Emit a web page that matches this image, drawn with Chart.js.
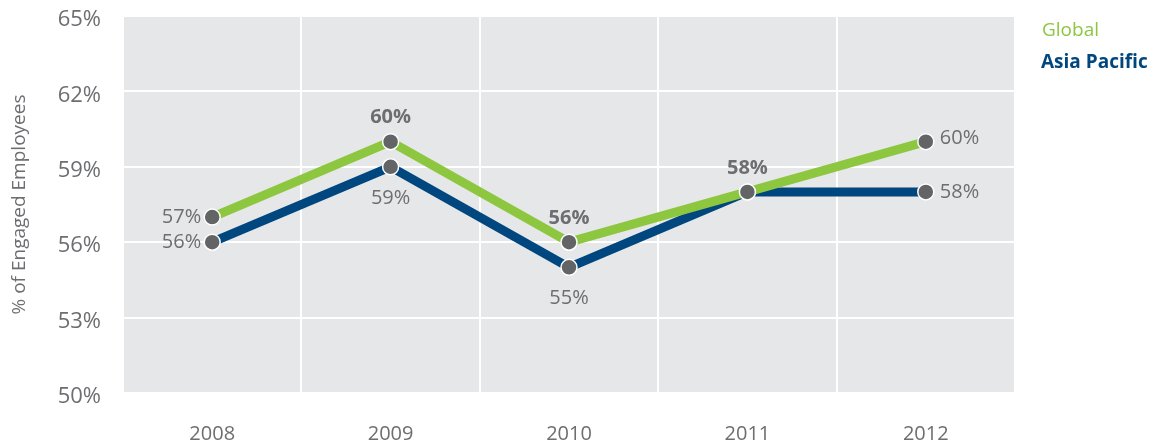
<!DOCTYPE html>
<html>
<head>
<meta charset="utf-8">
<script src="https://cdn.jsdelivr.net/npm/chart.js@4.4.1/dist/chart.umd.min.js"></script>
<style>
  html, body { margin: 0; padding: 0; background: #ffffff; }
  #wrap { width: 1156px; height: 444px; }
</style>
</head>
<body>
<div id="wrap"><canvas id="c" width="1156" height="444"></canvas></div>
<script>
// ---- data ----
const years = ['2008', '2009', '2010', '2011', '2012'];
const globalValues = [57, 60, 56, 58, 60];
const asiaValues = [56, 59, 55, 58, 58];
const seriesNames = ['Global', 'Asia Pacific'];
const yTickValues = [50, 53, 56, 59, 62, 65];
const axisTitle = '% of Engaged Employees';

// label placement per point (style only)
const globalLabelPos = ['left', 'above', 'above', 'above', 'right'];
const asiaLabelPos = ['left', 'below', 'below', null, 'right'];
const globalLabelBold = [false, true, true, true, false];

const GRAY_TEXT = '#6d6e71';
const GREEN = '#8dc63f';
const BLUE = '#00467f';
const FONT = "'Open Sans', 'DejaVu Sans', sans-serif";

const bgPlugin = {
  id: 'plotBg',
  beforeDraw(chart) {
    const a = chart.chartArea;
    const ctx = chart.ctx;
    ctx.save();
    ctx.fillStyle = '#e6e7e8';
    ctx.fillRect(a.left, a.top, a.right - a.left, a.bottom - a.top);
    ctx.restore();
  }
};

const labelPlugin = {
  id: 'pointLabels',
  afterDatasetsDraw(chart) {
    const ctx = chart.ctx;
    const cfgs = [
      { pos: globalLabelPos, bold: globalLabelBold, values: globalValues },
      { pos: asiaLabelPos, bold: [false, false, false, false, false], values: asiaValues }
    ];
    ctx.save();
    ctx.fillStyle = GRAY_TEXT;
    cfgs.forEach((cfg, di) => {
      const meta = chart.getDatasetMeta(di);
      meta.data.forEach((pt, i) => {
        const p = cfg.pos[i];
        if (!p) return;
        const txt = cfg.values[i] + '%';
        ctx.font = (cfg.bold[i] ? 'bold ' : '') + '20px ' + FONT;
        ctx.textBaseline = 'middle';
        let x = pt.x, y = pt.y;
        if (p === 'left') { ctx.textAlign = 'right'; x -= 11; y += 0; }
        else if (p === 'right') { ctx.textAlign = 'left'; x += 14; y += (di === 0 ? -3 : 0); }
        else if (p === 'above') { ctx.textAlign = 'center'; y -= 24; }
        else if (p === 'below') { ctx.textAlign = 'center'; y += 31; }
        ctx.fillText(txt, x, y);
      });
    });
    ctx.restore();
  }
};

const legendPlugin = {
  id: 'sideLegend',
  afterDraw(chart) {
    const ctx = chart.ctx;
    ctx.save();
    ctx.textAlign = 'left';
    ctx.textBaseline = 'alphabetic';
    ctx.font = '19px ' + FONT;
    ctx.fillStyle = GREEN;
    ctx.fillText(seriesNames[0], 1042, 36);
    ctx.font = 'bold 19px ' + FONT;
    ctx.fillStyle = BLUE;
    ctx.fillText(seriesNames[1], 1041, 68);
    ctx.restore();
  }
};

new Chart(document.getElementById('c'), {
  type: 'line',
  data: {
    labels: years,
    datasets: [
      {
        label: seriesNames[0],
        data: globalValues,
        borderColor: GREEN,
        borderWidth: 9,
        tension: 0,
        borderJoinStyle: 'round',
        pointRadius: 8,
        pointBorderWidth: 1.5,
        pointBorderColor: '#ffffff',
        pointBackgroundColor: '#636466',
        fill: false
      },
      {
        label: seriesNames[1],
        data: asiaValues,
        borderColor: BLUE,
        borderWidth: 9,
        tension: 0,
        borderJoinStyle: 'round',
        pointRadius: 8,
        pointBorderWidth: 1.5,
        pointBorderColor: '#ffffff',
        pointBackgroundColor: '#636466',
        fill: false
      }
    ]
  },
  options: {
    responsive: false,
    animation: false,
    layout: { padding: { left: 0, right: 141, top: 16, bottom: 0 } },
    plugins: { legend: { display: false }, tooltip: { enabled: false } },
    scales: {
      x: {
        offset: true,
        grid: { offset: true, color: '#ffffff', lineWidth: 2, drawTicks: false },
        border: { display: false },
        ticks: { color: GRAY_TEXT, font: { family: FONT, size: 20 }, padding: 29 },
        afterFit(s) { s.height = 51; s.paddingLeft = 0; s.paddingRight = 0; }
      },
      y: {
        min: 50,
        max: 65,
        afterBuildTicks(s) { s.ticks = yTickValues.map(v => ({ value: v })); },
        grid: { color: '#ffffff', lineWidth: 2, drawTicks: false },
        border: { display: false },
        ticks: {
          color: GRAY_TEXT,
          font: { family: FONT, size: 22 },
          padding: 22,
          labelOffset: 4,
          callback: v => v + '%'
        },
        title: {
          display: true,
          text: axisTitle,
          color: GRAY_TEXT,
          font: { family: FONT, size: 19 },
          padding: { top: 8, bottom: 0 }
        },
        afterFit(s) { s.width = 123; s.paddingTop = 0; s.paddingBottom = 0; }
      }
    }
  },
  plugins: [bgPlugin, labelPlugin, legendPlugin]
});
</script>
</body>
</html>
